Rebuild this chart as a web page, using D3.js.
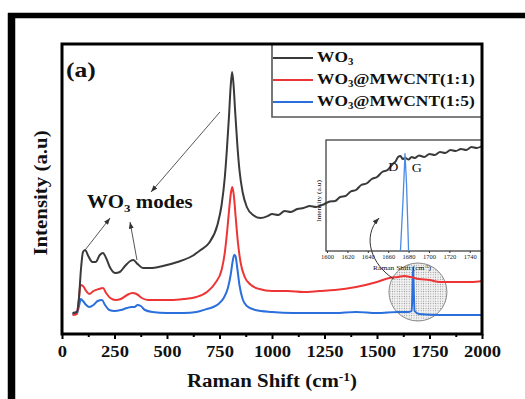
<!DOCTYPE html>
<html>
<head>
<meta charset="utf-8">
<script src="https://cdnjs.cloudflare.com/ajax/libs/d3/7.8.5/d3.min.js"></script>
<style>
  body { margin: 0; background: #fff; }
  svg { display: block; }
  text { font-family: "Liberation Serif", "Times New Roman", serif; }
</style>
</head>
<body>
<svg id="chart" width="525" height="399"></svg>
<script>
(function(){
    "use strict";

    //====================================
    // data: [Raman shift (cm-1), intensity (a.u.)]
    var wo3Series = [
        [50,22],[70,23],[80,35],[90,65],[100,83],[110,85],[125,79],[145,73],[160,73],[180,80],
        [195,82],[210,77],[230,67],[255,62],[275,63],[300,69],[325,74],[340,75],[360,71],[385,67],
        [420,67],[480,69],[550,73],[620,79],[660,85],[700,92],[740,110],[760,130],[775,157],[785,185],
        [795,218],[803,248],[810,263],[817,250],[825,222],[835,190],[845,165],[860,143],[880,128],[910,120],
        [945,117],[980,119],[1000,121],[1030,120],[1060,124],[1090,123],[1120,126],[1150,127],[1180,129],[1210,128],
        [1250,131],[1275,133.5],[1300,134],[1325,138],[1350,139],[1375,143.5],[1400,145],[1425,150],[1450,151.5],[1475,156],
        [1500,158],[1525,163],[1550,165],[1575,171],[1590,174],[1600,178],[1612,179],[1622,176],[1635,177],[1650,175.5],
        [1665,178],[1680,177],[1700,179.5],[1725,178],[1750,181],[1775,180],[1800,183],[1825,182],[1850,185],[1875,184],
        [1900,186],[1925,185],[1950,188],[1975,187],[2000,189]
    ];
    var mwcnt11Series = [
        [50,20],[70,21],[80,35],[88,50],[100,49],[115,44],[130,41],[150,44],[175,46],[195,47],
        [210,42],[230,37],[255,35],[280,36],[310,40],[335,42],[355,41],[380,37],[410,35],[460,35],
        [520,35],[580,36],[640,38],[690,43],[730,52],[760,65],[775,82],[787,105],[797,128],[805,143],
        [811,148],[818,140],[827,118],[838,92],[850,73],[870,58],[900,50],[940,46],[1000,44],[1075,44],
        [1150,43],[1225,44],[1300,45],[1400,48],[1500,53],[1560,57],[1600,58],[1630,59],[1660,58],[1700,56],
        [1750,55],[1800,53],[1850,53],[1900,53],[1950,53],[2000,54]
    ];
    var mwcnt15Series = [
        [50,21],[70,21],[80,28],[90,36],[100,34],[115,30],[130,28],[150,30],[170,34],[190,35],
        [205,30],[225,25],[250,24],[280,25],[310,27],[330,28],[345,28],[360,30],[375,29],[395,25],
        [430,23],[500,22],[580,22],[640,23],[690,26],[720,28],[745,31],[770,37],[790,47],[803,60],
        [813,74],[820,80],[826,79],[834,68],[845,50],[860,36],[880,29],[920,25],[1000,23],[1100,22],
        [1200,22],[1300,22],[1400,23],[1500,22],[1600,23],[1650,23],[1665,24],[1669,45],[1672,68],[1675,45],
        [1679,24],[1700,21],[1800,20],[1900,20],[2000,20]
    ];
    var seriesNames = ["@", "@MWCNT(1:1)", "@MWCNT(1:5)"];
    var seriesColors = ["#3a3a3a", "#ee3535", "#2a6fdc"];
    var majorTicks = [0, 250, 500, 750, 1000, 1250, 1500, 1750, 2000];
    var minorTicks = [125, 375, 625, 875, 1125, 1375, 1625, 1875];

    // inset (zoom of the D / G region)
    var insetTicks = [1600, 1620, 1640, 1660, 1680, 1700, 1720, 1740];
    var insetPeak = [[1672,0],[1674.5,45],[1676.5,88],[1678,60],[1680,0]];
    var insetLabels = [{text: "D", at: [1665, 72]}, {text: "G", at: [1688, 71]}];
    var zoomSpot = [1695, 43];

    // "WO3 modes" arrows, from peak to label
    var modeArrows = [
        {from: [110, 85], to: [229, 117]},
        {from: [357, 75], to: [324, 113]},
        {from: [752, 223], to: [424, 143]}
    ];
    var modeLabelAt = [119, 127];

    //====================================
    var svg = d3.select("#chart");
    var stretch = 1.16;   // the figure's type is a bit wider than Times

    var x = d3.scaleLinear().domain([0, 2000]).range([62, 482]);
    var y = d3.scaleLinear().domain([0, 291]).range([335, 44]);
    var xi = d3.scaleLinear().domain([1599, 1752]).range([326, 482]);
    var yi = d3.scaleLinear().domain([0, 100]).range([251, 140]);

    var defs = svg.append("defs");
    var pat = defs.append("pattern")
        .attr("id", "dots")
        .attr("width", 2.4).attr("height", 2.4)
        .attr("patternUnits", "userSpaceOnUse");
    pat.append("rect").attr("width", 2.4).attr("height", 2.4).attr("fill", "#f3f3f3");
    pat.append("circle").attr("cx", 1.2).attr("cy", 1.2).attr("r", 0.55).attr("fill", "#8a8a8a");

    defs.append("marker")
        .attr("id", "head")
        .attr("viewBox", "0 0 8 6")
        .attr("refX", 8).attr("refY", 3)
        .attr("markerWidth", 7).attr("markerHeight", 5)
        .attr("markerUnits", "userSpaceOnUse")
        .attr("orient", "auto")
        .append("path").attr("d", "M0,0L8,3L0,6z").attr("fill", "#333");

    //place a text by transform so it can be widened
    function label(txt, px, py, opts){
        opts = opts || {};
        var t = svg.append("text")
            .attr("transform", "translate(" + px + "," + py + ")" +
                (opts.rotate ? " rotate(" + opts.rotate + ")" : "") +
                " scale(" + stretch + ",1)")
            .attr("font-size", opts.size || 16)
            .attr("font-weight", opts.weight || "bold")
            .attr("text-anchor", opts.anchor || "start")
            .attr("fill", opts.fill || "#111");
        if(txt !== null){ t.text(txt); }
        return t;
    }

    function addWO3(t, rest){
        t.append("tspan").text("WO");
        t.append("tspan").attr("font-size", "0.62em").attr("dy", "0.32em").text("3");
        if(rest){ t.append("tspan").attr("dy", "-0.2em").text(rest); }
    }

    // outer frame (only top and left edges are in view)
    svg.append("line").attr("x1", 11.5).attr("x2", 11.5).attr("y1", 13).attr("y2", 399)
        .attr("stroke", "#000").attr("stroke-width", 7.5);
    svg.append("line").attr("x1", 8).attr("x2", 525).attr("y1", 15.5).attr("y2", 15.5)
        .attr("stroke", "#000").attr("stroke-width", 5.5);

    // magnifier circle, under the curves
    svg.append("circle")
        .attr("cx", x(zoomSpot[0])).attr("cy", y(zoomSpot[1])).attr("r", 29)
        .attr("fill", "url(#dots)").attr("stroke", "#8a8a8a").attr("stroke-width", 1);

    //====================================
    // spectra
    var line = d3.line()
        .x(function(d){ return x(d[0]); })
        .y(function(d){ return y(d[1]); })
        .curve(d3.curveMonotoneX);

    [mwcnt15Series, mwcnt11Series, wo3Series].forEach(function(s, i){
        svg.append("path")
            .datum(s)
            .attr("d", line)
            .attr("fill", "none")
            .attr("stroke", seriesColors[2 - i])
            .attr("stroke-width", 2)
            .attr("stroke-linejoin", "round");
    });

    //====================================
    // inset
    var inset = svg.append("g");
    inset.append("rect")
        .attr("x", xi.range()[0]).attr("y", yi.range()[1])
        .attr("width", xi.range()[1] - xi.range()[0])
        .attr("height", yi.range()[0] - yi.range()[1])
        .attr("fill", "none").attr("stroke", "#333").attr("stroke-width", 1.2);

    inset.append("path")
        .datum(insetPeak)
        .attr("d", d3.line().x(function(d){ return xi(d[0]); }).y(function(d){ return yi(d[1]); }))
        .attr("fill", "none").attr("stroke", "#4a8ae6").attr("stroke-width", 1.3);

    var iax = inset.append("g")
        .attr("transform", "translate(0," + yi.range()[0] + ")")
        .call(d3.axisBottom(xi).tickValues(insetTicks).tickSize(2).tickPadding(2).tickFormat(d3.format("d")));
    iax.select(".domain").remove();
    iax.selectAll("line").attr("stroke", "#333");
    iax.selectAll("text")
        .attr("font-size", 5.6).attr("font-family", "Liberation Serif, serif")
        .attr("fill", "#222").attr("transform", "scale(" + stretch + ",1)");

    insetLabels.forEach(function(l){
        label(l.text, xi(l.at[0]), yi(l.at[1]), {size: 12, weight: "normal", anchor: "middle"});
    });
    label("Intensity (a.u)", 321, 201, {size: 6.5, weight: "normal", anchor: "middle", rotate: -90});
    var ixl = label(null, 402, 270, {size: 6.5, weight: "normal", anchor: "middle"});
    ixl.append("tspan").text("Raman Shift (cm");
    ixl.append("tspan").attr("font-size", "0.65em").attr("dy", "-0.45em").text("-1");
    ixl.append("tspan").attr("dy", "0.3em").text(")");

    // curved pointer from the circle to the inset
    var c0 = [x(1580), y(56)];
    svg.append("path")
        .attr("d", "M" + c0 + "C" + [x(1475), y(70)] + " " + [x(1425), y(98)] + " " + [x(1510), y(117)])
        .attr("fill", "none").attr("stroke", "#333").attr("stroke-width", 1)
        .attr("marker-end", "url(#head)");

    //====================================
    // legend
    var legend = svg.append("g");
    legend.append("path")
        .attr("d", "M272,44V117H481")
        .attr("fill", "none").attr("stroke", "#555").attr("stroke-width", 1.6);
    seriesNames.forEach(function(name, i){
        var ly = 58 + i * 22;
        legend.append("line")
            .attr("x1", 273).attr("x2", 313).attr("y1", ly).attr("y2", ly)
            .attr("stroke", seriesColors[i]).attr("stroke-width", 2);
        var t = label(null, 317, ly + 4, {size: 15});
        addWO3(t, name === "@" ? null : name);
    });

    //====================================
    // WO3 modes annotation
    modeArrows.forEach(function(a){
        svg.append("line")
            .attr("x1", x(a.from[0])).attr("y1", y(a.from[1]))
            .attr("x2", x(a.to[0])).attr("y2", y(a.to[1]))
            .attr("stroke", "#444").attr("stroke-width", 0.9)
            .attr("marker-end", "url(#head)");
    });
    var ml = label(null, x(modeLabelAt[0]), y(modeLabelAt[1]), {size: 18});
    addWO3(ml, " modes");

    label("(a)", 66, 77, {size: 22});

    //====================================
    // axes and frame
    var xAxis = svg.append("g")
        .attr("transform", "translate(0,334)")
        .call(d3.axisBottom(x).tickValues(majorTicks).tickSize(5).tickPadding(7).tickFormat(d3.format("d")));
    xAxis.select(".domain").remove();
    xAxis.selectAll("line").attr("stroke", "#000").attr("stroke-width", 2);
    xAxis.selectAll("text")
        .attr("font-size", 16).attr("font-weight", "bold")
        .attr("font-family", "Liberation Serif, serif").attr("fill", "#111")
        .attr("transform", "scale(" + stretch + ",1)");

    var xMinor = svg.append("g")
        .attr("transform", "translate(0,334)")
        .call(d3.axisBottom(x).tickValues(minorTicks).tickSize(3).tickFormat(""));
    xMinor.select(".domain").remove();
    xMinor.selectAll("line").attr("stroke", "#000").attr("stroke-width", 2);

    svg.append("rect")
        .attr("x", 62).attr("y", 44).attr("width", 420).attr("height", 290)
        .attr("fill", "none").attr("stroke", "#000").attr("stroke-width", 3);

    var xt = label(null, 272, 387, {size: 18, anchor: "middle"});
    xt.append("tspan").text("Raman Shift (cm");
    xt.append("tspan").attr("font-size", "0.65em").attr("dy", "-0.5em").text("-1");
    xt.append("tspan").attr("dy", "0.33em").text(")");

    label("Intensity (a.u)", 47, 193, {size: 18, anchor: "middle", rotate: -90});
})();
</script>
</body>
</html>
